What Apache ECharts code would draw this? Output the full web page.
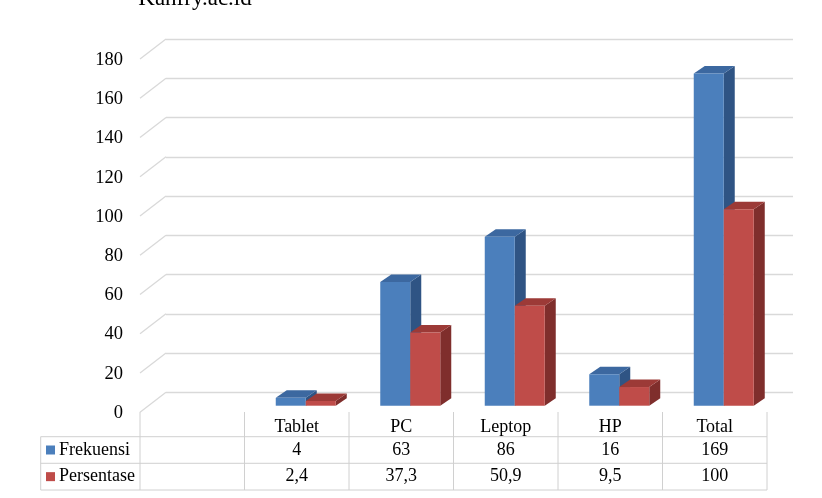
<!DOCTYPE html>
<html><head><meta charset="utf-8">
<script src="https://cdn.jsdelivr.net/npm/echarts@6/dist/echarts.min.js"></script>
<style>html,body{margin:0;padding:0;background:#fff}#c{width:822px;height:498px}</style>
</head><body><div id="c"></div>
<script>
const titleText = 'Kahfry.ac.id';
const categories = ['', 'Tablet', 'PC', 'Leptop', 'HP', 'Total'];
const seriesNames = ['Frekuensi', 'Persentase'];
const frekuensi = [null, 4, 63, 86, 16, 169];
const persentase = [null, 2.4, 37.3, 50.9, 9.5, 100];
const yTicks = [0, 20, 40, 60, 80, 100, 120, 140, 160, 180];

const FONT = '"Liberation Serif", "Times New Roman", serif';
const colorsBlue = { front: '#4B7FBC', top: '#3C68A0', side: '#2F5484' };
const colorsRed = { front: '#BF4C49', top: '#9C3A37', side: '#7F2E2C' };
const gridColor = '#D9D9D9';
const tableColor = '#D0D0D0';

function bar3d(side, colors) {
  return function (params, api) {
    const idx = api.value(0), v = api.value(1);
    if (v == null || isNaN(v)) return;
    const top = api.coord([idx, v]);
    const base = api.coord([idx, 0]);
    const w = 30, dx = 11, dy = 7.5;
    const x0 = top[0] + (side === 0 ? -w : 0);
    const x1 = x0 + w;
    const yt = top[1], yb = base[1];
    return {
      type: 'group', children: [
        { type: 'polygon', shape: { points: [[x1, yb], [x1, yt], [x1 + dx, yt - dy], [x1 + dx, yb - dy]] }, style: { fill: colors.side } },
        { type: 'polygon', shape: { points: [[x0, yt], [x1, yt], [x1 + dx, yt - dy], [x0 + dx, yt - dy]] }, style: { fill: colors.top } },
        { type: 'rect', shape: { x: x0, y: yt, width: w, height: yb - yt }, style: { fill: colors.front } }
      ]
    };
  };
}

function fmt(v) { return v == null ? '' : String(v).replace('.', ','); }

// data table graphic
const tLeft = 40.7, cLeft = 140, cRight = 767;
const colW = (cRight - cLeft) / categories.length;
const rowTop = [436.7, 463.3, 490];
const headTop = 412;
const g = [];
function line(x1, y1, x2, y2) {
  g.push({ type: 'line', shape: { x1, y1, x2, y2 }, style: { stroke: tableColor, lineWidth: 1 }, silent: true });
}
for (let i = 0; i <= categories.length; i++) line(cLeft + i * colW, headTop, cLeft + i * colW, rowTop[2]);
line(tLeft, rowTop[0], tLeft, rowTop[2]);
rowTop.forEach(y => line(tLeft, y, cRight, y));
categories.forEach((c, i) => {
  g.push({ type: 'text', x: cLeft + (i + 0.5) * colW, y: (headTop + rowTop[0]) / 2 + 3,
    style: { text: c, font: '18px ' + FONT, fill: '#000', textAlign: 'center', textVerticalAlign: 'middle' } });
});
const rows = [frekuensi, persentase];
const rowColors = [colorsBlue.front, colorsRed.front];
rows.forEach((arr, r) => {
  const cy = (rowTop[r] + rowTop[r + 1]) / 2;
  g.push({ type: 'rect', shape: { x: 46, y: cy - 4.5, width: 9, height: 9 }, style: { fill: rowColors[r] } });
  g.push({ type: 'text', x: 59, y: cy, style: { text: seriesNames[r], font: '18px ' + FONT, fill: '#000', textAlign: 'left', textVerticalAlign: 'middle' } });
  arr.forEach((v, i) => {
    g.push({ type: 'text', x: cLeft + (i + 0.5) * colW, y: cy,
      style: { text: fmt(v), font: '18px ' + FONT, fill: '#000', textAlign: 'center', textVerticalAlign: 'middle' } });
  });
});
g.push({ type: 'text', x: 195, y: -1, style: { text: titleText, font: '23px ' + FONT, fill: '#000', textAlign: 'center', textVerticalAlign: 'middle' } });

const chart = echarts.init(document.getElementById('c'), null, { renderer: 'canvas' });
chart.setOption({
  animation: false,
  backgroundColor: '#fff',
  grid: [
    { left: 166, right: 29, top: 39, bottom: 105.7 },   // back wall
    { left: 140, right: 55, top: 60, bottom: 85 },      // front plane (labels)
    { left: 149, right: 46, top: 52, bottom: 92.3 }     // bars
  ],
  xAxis: [
    { gridIndex: 0, type: 'value', min: 0, max: 1, show: false },
    { gridIndex: 1, type: 'value', min: 0, max: 1, show: false },
    { gridIndex: 2, type: 'category', data: categories, show: false, boundaryGap: true }
  ],
  yAxis: [
    { gridIndex: 0, type: 'value', min: 0, max: 180, interval: 20, axisLabel: { show: false }, axisLine: { show: false }, axisTick: { show: false },
      splitLine: { show: true, lineStyle: { color: gridColor, width: 1.3 } } },
    { gridIndex: 1, type: 'value', min: 0, max: 180, interval: 20, axisLine: { show: false }, axisTick: { show: false }, splitLine: { show: false },
      axisLabel: { margin: 17, fontFamily: FONT, fontSize: 18.5, color: '#000' } },
    { gridIndex: 2, type: 'value', min: 0, max: 180, show: false, splitLine: { show: false } }
  ],
  graphic: g,
  series: [
    {
      type: 'custom', xAxisIndex: 0, yAxisIndex: 0, clip: false, silent: true,
      data: yTicks.map(v => [0, v]),
      renderItem: function (params, api) {
        const p = api.coord([0, api.value(1)]);
        return { type: 'line', shape: { x1: p[0], y1: p[1], x2: p[0] - 26, y2: p[1] + 20 }, style: { stroke: gridColor, lineWidth: 1.3 } };
      }
    },
    {
      name: seriesNames[0], type: 'custom', xAxisIndex: 2, yAxisIndex: 2, clip: false,
      data: categories.map((c, i) => [i, frekuensi[i]]),
      renderItem: bar3d(0, colorsBlue)
    },
    {
      name: seriesNames[1], type: 'custom', xAxisIndex: 2, yAxisIndex: 2, clip: false,
      data: categories.map((c, i) => [i, persentase[i]]),
      renderItem: bar3d(1, colorsRed)
    }
  ]
});
</script></body></html>
